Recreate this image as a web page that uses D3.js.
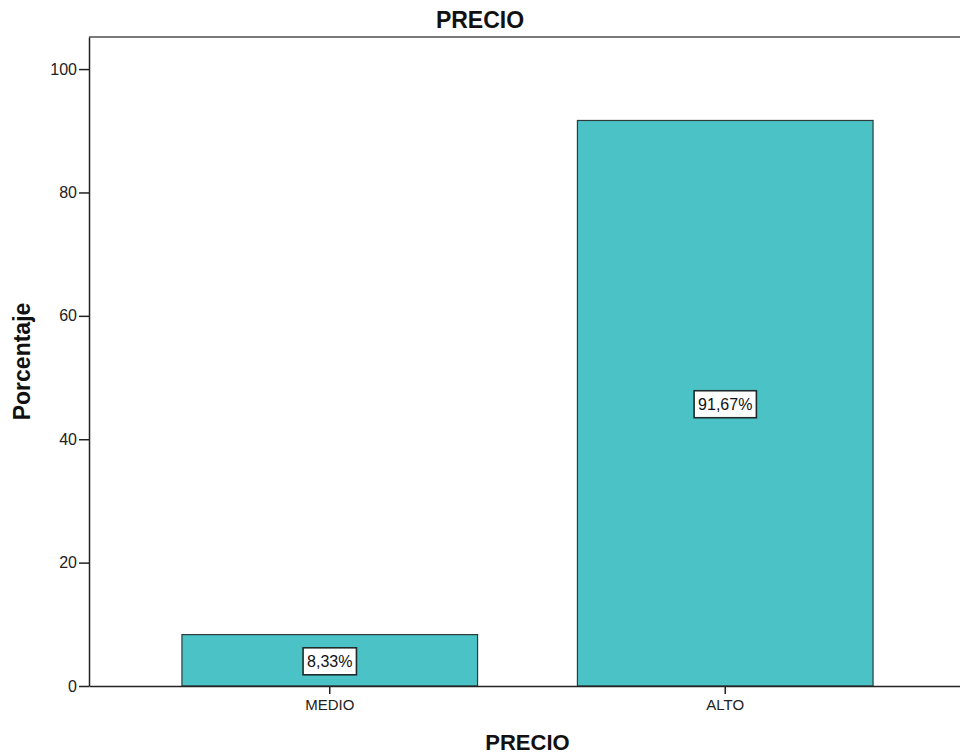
<!DOCTYPE html>
<html>
<head>
<meta charset="utf-8">
<script src="https://cdn.jsdelivr.net/npm/d3@7"></script>
<style>
  body { margin: 0; background: #fff; }
  svg { display: block; font-family: Arial, "Liberation Sans", sans-serif; }
</style>
</head>
<body>
<div id="chart"></div>
<script>
// chart data
const categories = ["MEDIO", "ALTO"];
const percents = [8.33, 91.67];
const valueLabels = ["8,33%", "91,67%"];
const yTicks = [0, 20, 40, 60, 80, 100];

const width = 960, height = 756;
const marginTop = 37, marginLeft = 89, plotBottom = 686, plotRight = 966;
const barColor = "#4bc2c5";

const svg = d3.select("#chart").append("svg")
  .attr("width", width)
  .attr("height", height)
  .attr("viewBox", [0, 0, width, height]);

// scales
const x = d3.scaleBand()
  .domain(categories)
  .range([marginLeft, plotRight])
  .paddingInner(0.2525)
  .paddingOuter(0.235);

const y = d3.scaleLinear()
  .domain([0, 105.2])
  .range([plotBottom, marginTop]);

const data = categories.map((c, i) => ({ cat: c, value: percents[i], label: valueLabels[i] }));

// top frame line
svg.append("line")
  .attr("x1", marginLeft).attr("x2", width)
  .attr("y1", marginTop).attr("y2", marginTop)
  .attr("stroke", "#7a7a7a")
  .attr("stroke-width", 2);

// bars
svg.append("g")
  .selectAll("rect")
  .data(data)
  .join("rect")
    .attr("x", d => x(d.cat))
    .attr("y", d => y(d.value))
    .attr("width", x.bandwidth())
    .attr("height", d => y(0) - y(d.value))
    .attr("fill", barColor)
    .attr("stroke", "#2e3b3b")
    .attr("stroke-width", 1.2);

// y-axis
svg.append("g")
  .attr("transform", `translate(${marginLeft},0)`)
  .call(d3.axisLeft(y).tickValues(yTicks).tickSize(10).tickPadding(2).tickSizeOuter(0))
  .call(g => g.select(".domain").attr("stroke", "#222").attr("stroke-width", 1.5))
  .call(g => g.selectAll(".tick line").attr("stroke", "#222").attr("stroke-width", 1.5))
  .call(g => g.selectAll(".tick text")
    .attr("font-size", "16px")
    .attr("font-family", "Arial, 'Liberation Sans', sans-serif")
    .attr("fill", "#222"));

// x-axis
svg.append("g")
  .attr("transform", `translate(0,${plotBottom})`)
  .call(d3.axisBottom(x).tickSize(8).tickPadding(5).tickSizeOuter(0))
  .call(g => g.select(".domain").attr("stroke", "#222").attr("stroke-width", 1.5))
  .call(g => g.selectAll(".tick line").attr("stroke", "#222").attr("stroke-width", 1.5))
  .call(g => g.selectAll(".tick text")
    .attr("font-size", "15px")
    .attr("font-family", "Arial, 'Liberation Sans', sans-serif")
    .attr("fill", "#222"));

// value labels with boxes
const lbl = svg.append("g")
  .selectAll("g")
  .data(data)
  .join("g")
    .attr("transform", d => `translate(${x(d.cat) + x.bandwidth() / 2},${(y(d.value) + y(0)) / 2 + 1})`);

lbl.append("text")
  .attr("text-anchor", "middle")
  .attr("dy", "0.36em")
  .attr("font-size", "16px")
  .attr("fill", "#111")
  .text(d => d.label);

lbl.each(function () {
  const g = d3.select(this);
  const w = g.select("text").node().getComputedTextLength() + 8;
  g.insert("rect", "text")
    .attr("x", -w / 2)
    .attr("y", -13.5)
    .attr("width", w)
    .attr("height", 27)
    .attr("fill", "#fff")
    .attr("stroke", "#1f2b2b")
    .attr("stroke-width", 1.6);
});

// titles
svg.append("text")
  .attr("x", width / 2)
  .attr("y", 28)
  .attr("text-anchor", "middle")
  .attr("font-size", "23px")
  .attr("font-weight", "bold")
  .attr("fill", "#111")
  .text("PRECIO");

svg.append("text")
  .attr("x", (marginLeft + plotRight) / 2)
  .attr("y", 750)
  .attr("text-anchor", "middle")
  .attr("font-size", "22px")
  .attr("font-weight", "bold")
  .attr("fill", "#111")
  .text("PRECIO");

svg.append("text")
  .attr("transform", `translate(30,${(y(0) + y(105.2)) / 2}) rotate(-90)`)
  .attr("text-anchor", "middle")
  .attr("font-size", "23px")
  .attr("font-weight", "bold")
  .attr("fill", "#111")
  .text("Porcentaje");
</script>
</body>
</html>
